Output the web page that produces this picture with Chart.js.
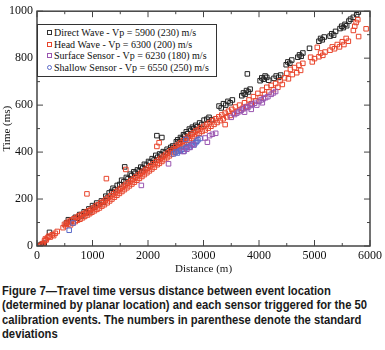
<!DOCTYPE html>
<html>
<head>
<meta charset="utf-8">
<script src="https://cdn.jsdelivr.net/npm/chart.js@4.4.1/dist/chart.umd.min.js"></script>
<style>
  body { margin: 0; background: #fff; }
  #wrap { position: relative; width: 385px; height: 350px; overflow: hidden; }
  #chartTempo { position: absolute; left: 0; top: 0; }
  #legenda {
    position: absolute; left: 37px; top: 24px; width: 178px; height: 51px;
    border: 1px solid #333; background: #fff;
    font-family: "Liberation Serif", "Times New Roman", serif; font-size: 11px; color: #111;
  }
  .linha { position: absolute; left: 0; height: 12px; line-height: 12px; white-space: nowrap; }
  .marca { position: absolute; left: 9px; top: 4px; width: 3px; height: 3px; border: 1px solid; }
  .texto { position: absolute; left: 16px; top: 0; display: inline-block; transform: scaleX(0.91); transform-origin: left center; }
  #legenda_caption {
    position: absolute; left: 2px; top: 284px;
    font-family: "Liberation Sans", Arial, sans-serif; font-weight: bold; font-size: 12.5px;
    line-height: 14.3px; color: #1a1a1a; white-space: nowrap;
    transform: scaleX(0.9); transform-origin: left top;
  }
</style>
</head>
<body>
<div id="wrap">
  <canvas id="chartTempo" width="385" height="278"></canvas>
  <div id="legenda">
    <div class="linha" style="top:1px"><span class="marca" style="border-color:#333"></span><span class="texto">Direct Wave - Vp = 5900 (230) m/s</span></div>
    <div class="linha" style="top:13px"><span class="marca" style="border-color:#e8452c"></span><span class="texto">Head Wave - Vp = 6300 (200) m/s</span></div>
    <div class="linha" style="top:24px"><span class="marca" style="border-color:#9a55b0"></span><span class="texto">Surface Sensor - Vp = 6230 (180) m/s</span></div>
    <div class="linha" style="top:36px"><span class="marca" style="border-color:#5a6ac8;border-radius:50%"></span><span class="texto">Shallow Sensor - Vp = 6550 (250) m/s</span></div>
  </div>
  <div id="legenda_caption">
    Figure 7—Travel time versus distance between event location<br>
    (determined by planar location) and each sensor triggered for the 50<br>
    calibration events. The numbers in parenthese denote the standard<br>
    deviations
  </div>
</div>
<script>
// Distancia (m) x tempo (ms)
const ticksX = [0, 1000, 2000, 3000, 4000, 5000, 6000];
const ticksY = [0, 200, 400, 600, 800, 1000];

const ondaDireta = [
  [45,2],[75,6],[105,4],[130,12],[225,58],[530,98],[565,112],[610,104],[690,122],[725,118],
  [770,134],[805,128],[850,146],[890,141],[935,158],[955,150],[1000,172],[1035,165],[1075,183],[1110,176],
  [1160,192],[1195,186],[1240,212],[1265,204],[1300,226],[1345,232],[1370,246],[1405,240],[1445,258],[1490,262],
  [1525,280],[1565,274],[1580,337],[1610,292],[1640,286],[1680,306],[1705,300],[1745,316],[1770,310],[1810,324],
  [1845,320],[1870,336],[1905,332],[1935,348],[1970,344],[2010,360],[2040,356],[2075,372],[2110,366],[2140,386],
  [2175,378],[2160,470],[2250,462],[2210,392],[2240,388],[2275,402],[2310,398],[2345,412],[2380,406],[2410,420],
  [2445,426],[2470,418],[2510,444],[2535,452],[2560,440],[2585,462],[2610,456],[2640,474],[2660,468],[2690,486],
  [2715,478],[2745,498],[2770,492],[2800,506],[2825,500],[2860,514],[2890,508],[2930,524],[2970,518],[3010,536],
  [3060,540],[3100,548],[3150,538],[3280,596],[3320,588],[3360,606],[3400,600],[3440,616],[3480,610],[3520,622],
  [3690,640],[3720,652],[3750,646],[3775,662],[3810,656],[3840,668],[3790,733],[4020,704],[4050,716],[4080,710],
  [4110,724],[4140,718],[4175,706],[4270,714],[4310,724],[4355,718],[4390,728],[4490,772],[4520,784],[4555,778],
  [4590,792],[4700,804],[4730,814],[4760,808],[4790,822],[4910,842],[5080,872],[5110,884],[5140,878],[5175,890],
  [5280,894],[5310,904],[5345,898],[5380,914],[5460,926],[5490,936],[5520,930],[5550,944],[5580,938],[5620,958],
  [5650,966],[5700,974],[5760,985],[5790,996]
];

const ondaCabeca = [
  [65,2],[95,10],[115,6],[135,22],[150,30],[165,26],[190,36],[215,42],[240,38],[275,48],
  [300,44],[330,54],[365,62],[470,78],[495,92],[515,86],[540,100],[560,94],[585,106],[605,90],
  [625,110],[650,98],[665,116],[690,104],[710,122],[730,110],[755,128],[775,114],[800,134],[820,120],
  [845,138],[860,126],[885,144],[900,222],[910,132],[930,150],[950,138],[975,156],[990,144],[1015,162],
  [1035,150],[1060,170],[1080,156],[1100,176],[1125,162],[1150,184],[1170,170],[1195,190],[1215,176],[1240,198],
  [1250,287],[1265,184],[1285,206],[1310,192],[1330,214],[1350,200],[1375,222],[1395,208],[1420,230],[1440,216],
  [1465,238],[1485,224],[1510,246],[1530,232],[1555,254],[1575,240],[1600,326],[1600,262],[1620,248],[1645,270],
  [1665,256],[1690,278],[1710,264],[1735,286],[1755,272],[1780,294],[1800,280],[1825,302],[1845,288],[1870,310],
  [1890,296],[1915,318],[1935,304],[1960,326],[1980,312],[2005,334],[2025,320],[2050,342],[2070,328],[2095,350],
  [2115,336],[2140,358],[2160,424],[2200,440],[2165,346],[2185,366],[2205,352],[2230,374],[2250,360],[2275,382],
  [2295,368],[2320,390],[2340,376],[2365,398],[2385,384],[2410,406],[2430,392],[2455,414],[2475,400],[2500,424],
  [2520,410],[2545,432],[2565,418],[2590,440],[2610,426],[2635,448],[2655,434],[2680,458],[2700,442],[2725,466],
  [2745,450],[2770,474],[2790,458],[2815,482],[2835,466],[2860,490],[2880,474],[2905,496],[2925,480],[2950,504],
  [2975,488],[3005,510],[3030,494],[3060,518],[3085,502],[3110,526],[3135,510],[3165,534],[3190,518],[3220,542],
  [3245,526],[3275,550],[3300,534],[3330,558],[3355,542],[3390,517],[3390,566],[3420,550],[3450,574],[3480,556],
  [3510,582],[3540,566],[3575,592],[3610,574],[3650,600],[3700,586],[3740,610],[3780,594],[3820,622],[3860,606],
  [3900,636],[3940,618],[3980,650],[4020,632],[4060,664],[4100,646],[4140,676],[4180,656],[4220,684],[4260,666],
  [4300,692],[4340,676],[4380,704],[4420,688],[4460,716],[4500,736],[4530,712],[4565,752],[4600,730],[4640,760],
  [4680,738],[4720,770],[4750,748],[4790,778],[4930,804],[4960,784],[5000,798],[5050,846],[5080,806],[5110,822],
  [5150,812],[5190,826],[5280,834],[5320,848],[5360,840],[5410,858],[5450,848],[5500,870],[5530,858],[5570,884],
  [5610,872],[5700,918],[5725,936],[5750,952],[5780,964],[5795,892],[5930,925]
];

const sensorSuperficie = [
  [1880,258],[2370,350],[2640,402],[2700,412],[2760,420],[2820,432],[3030,460],[3070,442],[3110,470],[3160,476],
  [3220,480],[3500,548],[3560,560],[3600,566],[3640,572],[3680,578],[3720,584],[3760,592],[3800,590],[3840,598],
  [3880,604],[3920,608],[3960,600],[4000,616],[4040,622],[4080,628],[4120,632],[4160,636],[4220,646],[4260,652],
  [4300,658],[3740,570],[3860,582],[4060,610]
];

const sensorRaso = [
  [580,67],[650,98],[2460,392],[2500,400],[2530,396],[2560,404],[2590,408],[2620,412],[2650,404],[2680,418],
  [2710,424],[2740,420],[2770,428],[2800,434],[2830,430],[2860,440],[2880,446],[2900,452],[2940,458],[2680,454]
];

function paraPontos(lista) {
  return lista.map(p => ({ x: p[0], y: p[1] }));
}

// Moldura e ticks para dentro, nos quatro lados
const moldura = {
  id: 'moldura',
  afterDraw(chart) {
    const { ctx, chartArea: a, scales } = chart;
    ctx.save();
    ctx.strokeStyle = '#444';
    ctx.lineWidth = 1.5;
    ctx.strokeRect(a.left, a.top, a.right - a.left, a.bottom - a.top);
    ctx.lineWidth = 1;
    ctx.beginPath();
    for (let i = 0; i < ticksX.length; i++) {
      const px = scales.x.getPixelForValue(ticksX[i]);
      ctx.moveTo(px, a.bottom); ctx.lineTo(px, a.bottom - 6);
      ctx.moveTo(px, a.top); ctx.lineTo(px, a.top + 6);
      if (i < ticksX.length - 1) {
        const pm = scales.x.getPixelForValue((ticksX[i] + ticksX[i + 1]) / 2);
        ctx.moveTo(pm, a.bottom); ctx.lineTo(pm, a.bottom - 3);
        ctx.moveTo(pm, a.top); ctx.lineTo(pm, a.top + 3);
      }
    }
    for (let i = 0; i < ticksY.length; i++) {
      const py = scales.y.getPixelForValue(ticksY[i]);
      ctx.moveTo(a.left, py); ctx.lineTo(a.left + 6, py);
      ctx.moveTo(a.right, py); ctx.lineTo(a.right - 6, py);
      if (i < ticksY.length - 1) {
        const pm = scales.y.getPixelForValue((ticksY[i] + ticksY[i + 1]) / 2);
        ctx.moveTo(a.left, pm); ctx.lineTo(a.left + 3, pm);
        ctx.moveTo(a.right, pm); ctx.lineTo(a.right - 3, pm);
      }
    }
    ctx.stroke();
    ctx.restore();
  }
};

const fonteSerif = 'Liberation Serif';
const ctx = document.getElementById('chartTempo').getContext('2d');

function serie(nome, dados, cor) {
  return {
    label: nome,
    data: paraPontos(dados),
    pointStyle: 'rect',
    pointRadius: 3.2,
    pointBorderWidth: 1,
    borderColor: cor,
    backgroundColor: 'rgba(0,0,0,0)',
    showLine: false
  };
}

new Chart(ctx, {
  type: 'scatter',
  data: {
    datasets: [
      serie('Surface Sensor', sensorSuperficie, '#9a55b0'),
      serie('Shallow Sensor', sensorRaso, '#5a6ac8'),
      serie('Head Wave', ondaCabeca, '#e8452c'),
      serie('Direct Wave', ondaDireta, '#222')
    ]
  },
  options: {
    responsive: false,
    animation: false,
    layout: { padding: { top: 6, right: 6, left: 0, bottom: 0 } },
    plugins: {
      legend: { display: false },
      tooltip: { enabled: false }
    },
    scales: {
      x: {
        type: 'linear',
        min: 0,
        max: 6000,
        afterBuildTicks(s) { s.ticks = ticksX.map(v => ({ value: v })); },
        ticks: { color: '#111', padding: 3, maxRotation: 0, font: { family: fonteSerif, size: 12 },
                 callback: v => String(v) },
        grid: { display: false, drawTicks: false },
        border: { display: false },
        title: { display: true, text: 'Distance (m)', color: '#111', padding: { top: 0, bottom: 2 }, font: { family: fonteSerif, size: 11 } },
        afterFit(s) { s.height = 32; }
      },
      y: {
        type: 'linear',
        min: 0,
        max: 1000,
        afterBuildTicks(s) { s.ticks = ticksY.map(v => ({ value: v })); },
        ticks: { color: '#111', padding: 4, font: { family: fonteSerif, size: 12 },
                 callback: v => String(v) },
        grid: { display: false, drawTicks: false },
        border: { display: false },
        title: { display: true, text: 'Time (ms)', color: '#111', padding: { top: 1, bottom: 0 }, font: { family: fonteSerif, size: 11 } },
        afterFit(s) { s.width = 37; }
      }
    }
  },
  plugins: [moldura]
});
</script>
</body>
</html>
